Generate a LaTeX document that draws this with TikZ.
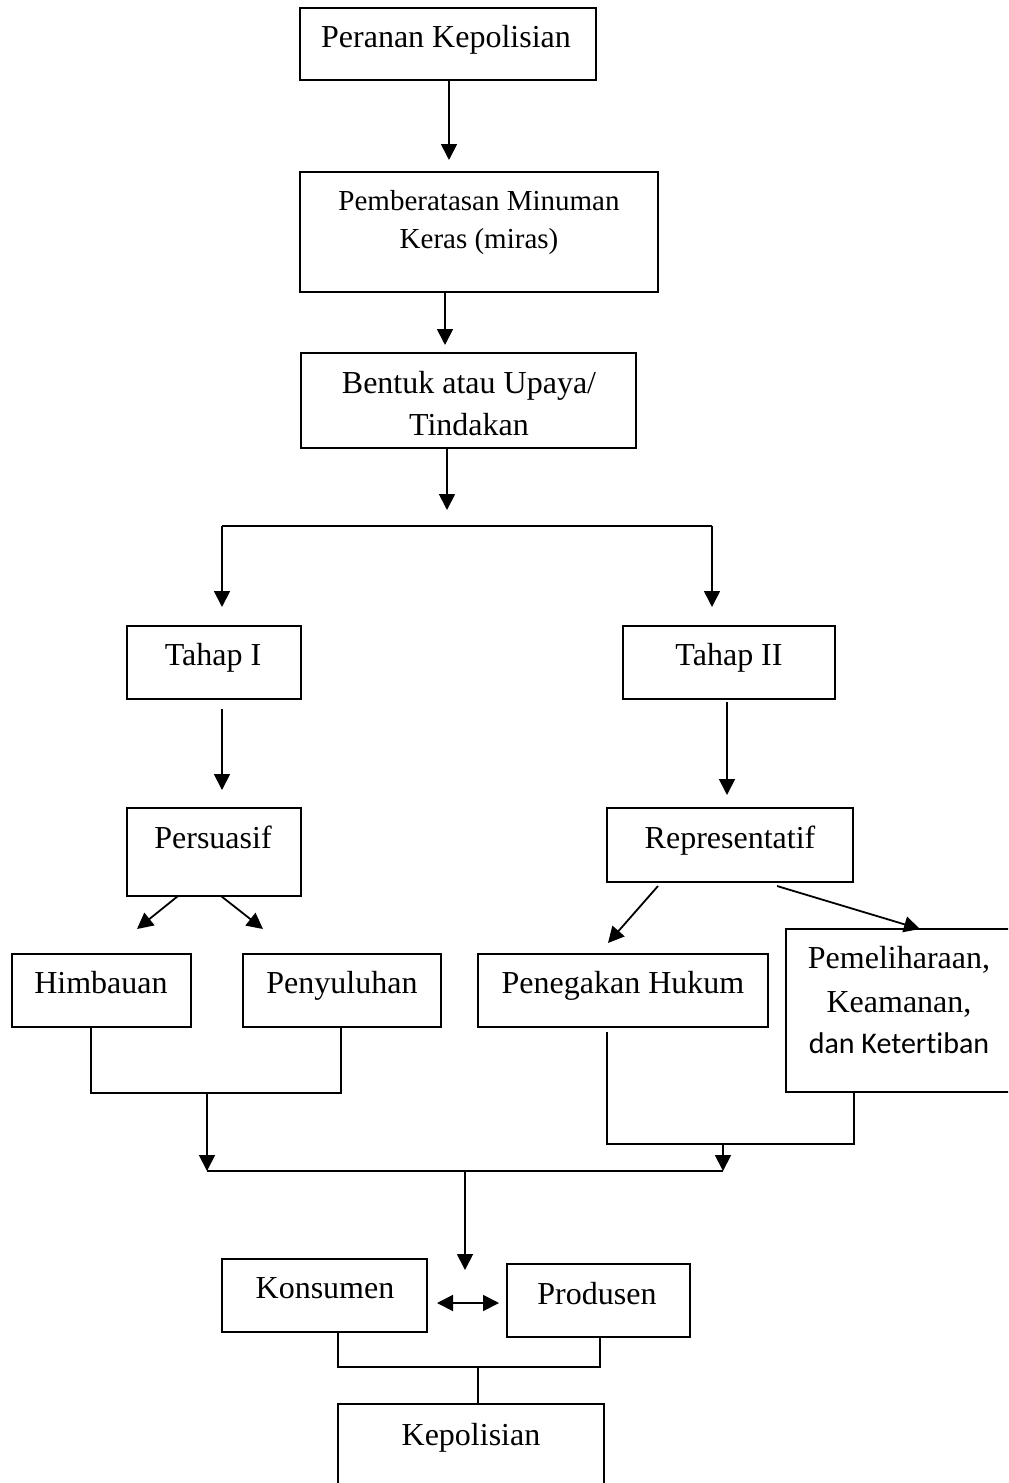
\documentclass[tikz,border=0pt]{standalone}
\usepackage{fontspec}
\setmainfont{Liberation Serif}
\newfontfamily\calfont[Ligatures=NoCommon]{Carlito}
\usetikzlibrary{arrows.meta,fit}
\begin{document}
\begin{tikzpicture}[x=0.5pt,y=-0.5pt,
  box/.style={draw, line width=0.9pt, inner sep=0pt},
  txt/.style={anchor=base, inner sep=0pt, font=\fontsize{16}{19}\selectfont},
  stxt/.style={anchor=base, inner sep=0pt, font=\fontsize{14.5}{17}\selectfont},
  ctxt/.style={anchor=base, inner sep=0pt, font=\calfont\fontsize{15}{18}\selectfont},
  arr/.style={line width=0.9pt, -{Triangle[length=8pt,width=8pt]}},
  darr/.style={line width=0.9pt, {Triangle[length=8pt,width=8pt]}-{Triangle[length=8pt,width=8pt]}},
  ln/.style={line width=0.9pt}]
\useasboundingbox (0,0) rectangle (1008,1483);
\clip (0,0) rectangle (1008,1483);

% top chain
\node[box, fit={(300,8)(596,80)}] (b1) {};
\node[txt] (t1) at (446,47) {Peranan Kepolisian};
\coordinate (a1) at (449,160);
\draw[arr] (b1.south -| a1) -- (a1);

\node[box, fit={(300,172)(658,292)}] (b2) {};
\node[stxt] (t2a) at (479,210) {Pemberatasan Minuman};
\node[stxt] (t2b) at (479,248) {Keras (miras)};
\coordinate (a2) at (445,345);
\draw[arr] (b2.south -| a2) -- (a2);

\node[box, fit={(301,353)(636,448)}] (b3) {};
\node[txt] (t3a) at (469,393) {Bentuk atau Upaya/};
\node[txt] (t3b) at (469,435) {Tindakan};
\coordinate (a3) at (447,510);
\draw[arr] (b3.south -| a3) -- (a3);

% branch
\coordinate (br1) at (222,526);
\coordinate (br2) at (712,526);
\coordinate (tp1) at (222,607);
\coordinate (tp2) at (712,607);
\draw[ln] (br1) -- (br2);
\draw[arr] (br1) -- (tp1);
\draw[arr] (br2) -- (tp2);

% Tahap
\node[box, fit={(127,626)(301,699)}] (th1) {};
\node[txt] (tt1) at (213,665) {Tahap I};
\node[box, fit={(623,626)(835,699)}] (th2) {};
\node[txt] (tt2) at (729,665) {Tahap II};

\coordinate (s1) at (222,709);
\coordinate (e1) at (222,790);
\draw[arr] (s1) -- (e1);
\coordinate (s2) at (727,702);
\coordinate (e2) at (727,795);
\draw[arr] (s2) -- (e2);

\node[box, fit={(127,808)(301,896)}] (per) {};
\node[txt] (tper) at (213,848) {Persuasif};
\node[box, fit={(607,808)(853,882)}] (rep) {};
\node[txt] (trep) at (730,848) {Representatif};

% diagonal arrows
\coordinate (p1) at (178,896);
\coordinate (q1) at (137,929);
\coordinate (p2) at (221,896);
\coordinate (q2) at (263,929);
\coordinate (p3) at (658,886);
\coordinate (q3) at (608,943);
\coordinate (p4) at (777,886);
\coordinate (q4) at (920,929);
\draw[arr] (p1) -- (q1);
\draw[arr] (p2) -- (q2);
\draw[arr] (p3) -- (q3);
\draw[arr] (p4) -- (q4);

% leaves
\node[box, fit={(12,954)(191,1027)}] (him) {};
\node[txt] (thim) at (101,993) {Himbauan};
\node[box, fit={(243,954)(441,1027)}] (pen) {};
\node[txt] (tpen) at (342,993) {Penyuluhan};
\node[box, fit={(478,954)(768,1027)}] (peg) {};
\node[txt] (tpeg) at (623,993) {Penegakan Hukum};
\node[box, fit={(786,929)(1014,1092)}] (pem) {};
\node[txt] (tpem1) at (899,968) {Pemeliharaan,};
\node[txt] (tpem2) at (899,1012) {Keamanan,};
\node[ctxt] (tpem3) at (899,1053) {dan Ketertiban};

% joins
\coordinate (j1) at (91,1093);
\coordinate (j2) at (341,1093);
\coordinate (j3) at (207,1093);
\coordinate (j4) at (207,1171);
\draw[ln] (him.south -| j1) -- (j1) -- (j2) -- (pen.south -| j2);
\draw[arr] (j3) -- (j4);

\coordinate (k0) at (607,1032);
\coordinate (k1) at (607,1144);
\coordinate (k2) at (854,1144);
\coordinate (k3) at (723,1144);
\coordinate (k4) at (723,1171);
\draw[ln] (k0) -- (k1) -- (k2) -- (pem.south -| k2);
\draw[arr] (k3) -- (k4);

\draw[ln] (j4) -- (k4);
\coordinate (m1) at (465,1171);
\coordinate (m2) at (465,1270);
\draw[arr] (m1) -- (m2);

% bottom
\node[box, fit={(222,1259)(427,1332)}] (kon) {};
\node[txt] (tkon) at (325,1298) {Konsumen};
\node[box, fit={(507,1264)(690,1337)}] (pro) {};
\node[txt] (tpro) at (597,1304) {Produsen};
\coordinate (d1) at (437,1303);
\coordinate (d2) at (499,1303);
\draw[darr] (d1) -- (d2);

\node[box, fit={(338,1404)(604,1500)}] (kep) {};
\node[txt] (tkep) at (471,1445) {Kepolisian};
\coordinate (n1) at (338,1367);
\coordinate (n2) at (600,1367);
\coordinate (n3) at (478,1367);
\draw[ln] (kon.south -| n1) -- (n1) -- (n2) -- (pro.south -| n2);
\draw[ln] (n3) -- (kep.north -| n3);
\end{tikzpicture}
\end{document}
